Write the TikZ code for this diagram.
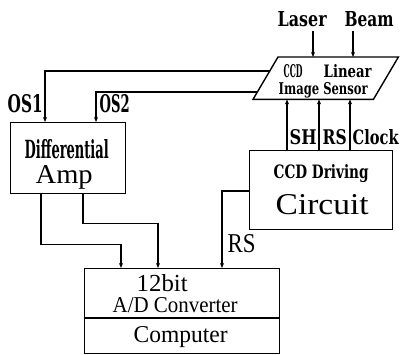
\documentclass[tikz,border=0pt]{standalone}
\usepackage{fontspec}
\setmainfont{Liberation Serif}
\newfontfamily\dvs{DejaVu Serif Condensed}
\usepackage{graphicx}
\usetikzlibrary{arrows.meta}
\newcommand\fitbox[3]{\resizebox{#1pt}{#2pt}{#3}}
\newcommand\hv{\dvs\bfseries}
\begin{document}
\begin{tikzpicture}[x=1pt,y=-1pt, line width=1.4pt,
  box/.style={draw, inner sep=0, anchor=north west},
  lbl/.style={inner sep=0, anchor=base west},
  arr/.style={-{Stealth[length=5pt,width=4pt]}}]
\useasboundingbox (0,0) rectangle (400,355);
% sensor parallelogram
\node[inner sep=0, minimum width=144pt, minimum height=41pt, anchor=north west] (sensor) at (253,57) {};
\draw ([xshift=25pt]sensor.north west) -- (sensor.north east) -- ([xshift=-25pt]sensor.south east) -- (sensor.south west) -- cycle;
\node[lbl] (sensorA) at (283,78) {\fitbox{19}{13}{\hv CCD}\hspace{21pt}\fitbox{48}{13}{\hv Linear}};
\node[lbl] (sensorB) at (278,95) {\fitbox{89}{12}{\hv Image Sensor}};
% boxes
\node[box, minimum width=115pt, minimum height=71pt] (amp) at (10,122) {};
\node[lbl] (ampA) at (24,159) {\fitbox{84}{19}{\hv Differential}};
\node[lbl] (ampB) at (35,184) {\fitbox{57}{18}{Amp}};
\node[box, minimum width=143pt, minimum height=79pt] (drv) at (249,150) {};
\node[lbl] (drvA) at (273,179) {\fitbox{95}{14}{\hv CCD Driving}};
\node[lbl] (drvB) at (275,215) {\fitbox{93}{20}{Circuit}};
\node[box, minimum width=195pt, minimum height=85pt] (adc) at (84,268) {};
\coordinate (divL) at (84,318);
\coordinate (divR) at (279,318);
\draw (divL) -- (divR);
\node[lbl] (adcA) at (136,292) {\fitbox{51}{17}{12bit}};
\node[lbl] (adcB) at (112,313) {\fitbox{125}{15}{A/D Converter}};
\node[lbl] (adcC) at (133,343) {\fitbox{94}{16}{Computer}};
% labels
\node[lbl] (laser) at (277,27) {\fitbox{49}{15}{\hv Laser}};
\node[lbl] (beam) at (344,27) {\fitbox{49}{15}{\hv Beam}};
\node[lbl] (os1) at (7,113) {\fitbox{35}{18}{\hv OS1}};
\node[lbl] (os2) at (99,113) {\fitbox{30}{18}{\hv OS2}};
\node[lbl] (sh) at (289,145) {\fitbox{27}{15}{\hv SH}};
\node[lbl] (rs) at (322,145) {\fitbox{24}{15}{\hv RS}};
\node[lbl] (clock) at (352,145) {\fitbox{46}{15}{\hv Clock}};
\node[lbl] (rs2) at (227,253) {\fitbox{28}{18}{RS}};
% connectors
\coordinate (lz) at (313,31);
\coordinate (bm) at (353,31);
\draw[arr] (lz) -- (lz |- sensor.north);
\draw[arr] (bm) -- (bm |- sensor.north);
\coordinate (os1s) at (270,71);
\coordinate (os2s) at (257,92);
\draw[arr] (os1s) -| ([xshift=35pt]amp.north west);
\draw[arr] (os2s) -| ([xshift=86pt]amp.north west);
\coordinate (shS) at ([xshift=38pt]drv.north west);
\coordinate (rsS) at ([xshift=70pt]drv.north west);
\coordinate (ckS) at ([xshift=101pt]drv.north west);
\draw[arr] (shS) -- (shS |- sensor.south);
\draw[arr] (rsS) -- (rsS |- sensor.south);
\draw[arr] (ckS) -- (ckS |- sensor.south);
\coordinate (o1) at ([xshift=31pt]amp.south west);
\coordinate (o2) at ([xshift=73pt]amp.south west);
\draw[arr] (o1) -- ++(0,50) -| ([xshift=37pt]adc.north west);
\draw[arr] (o2) -- ++(0,29) -| ([xshift=74pt]adc.north west);
\coordinate (rsD) at ([yshift=-41pt]drv.north west);
\draw[arr] (rsD) -| ([xshift=138pt]adc.north west);
\end{tikzpicture}
\end{document}
